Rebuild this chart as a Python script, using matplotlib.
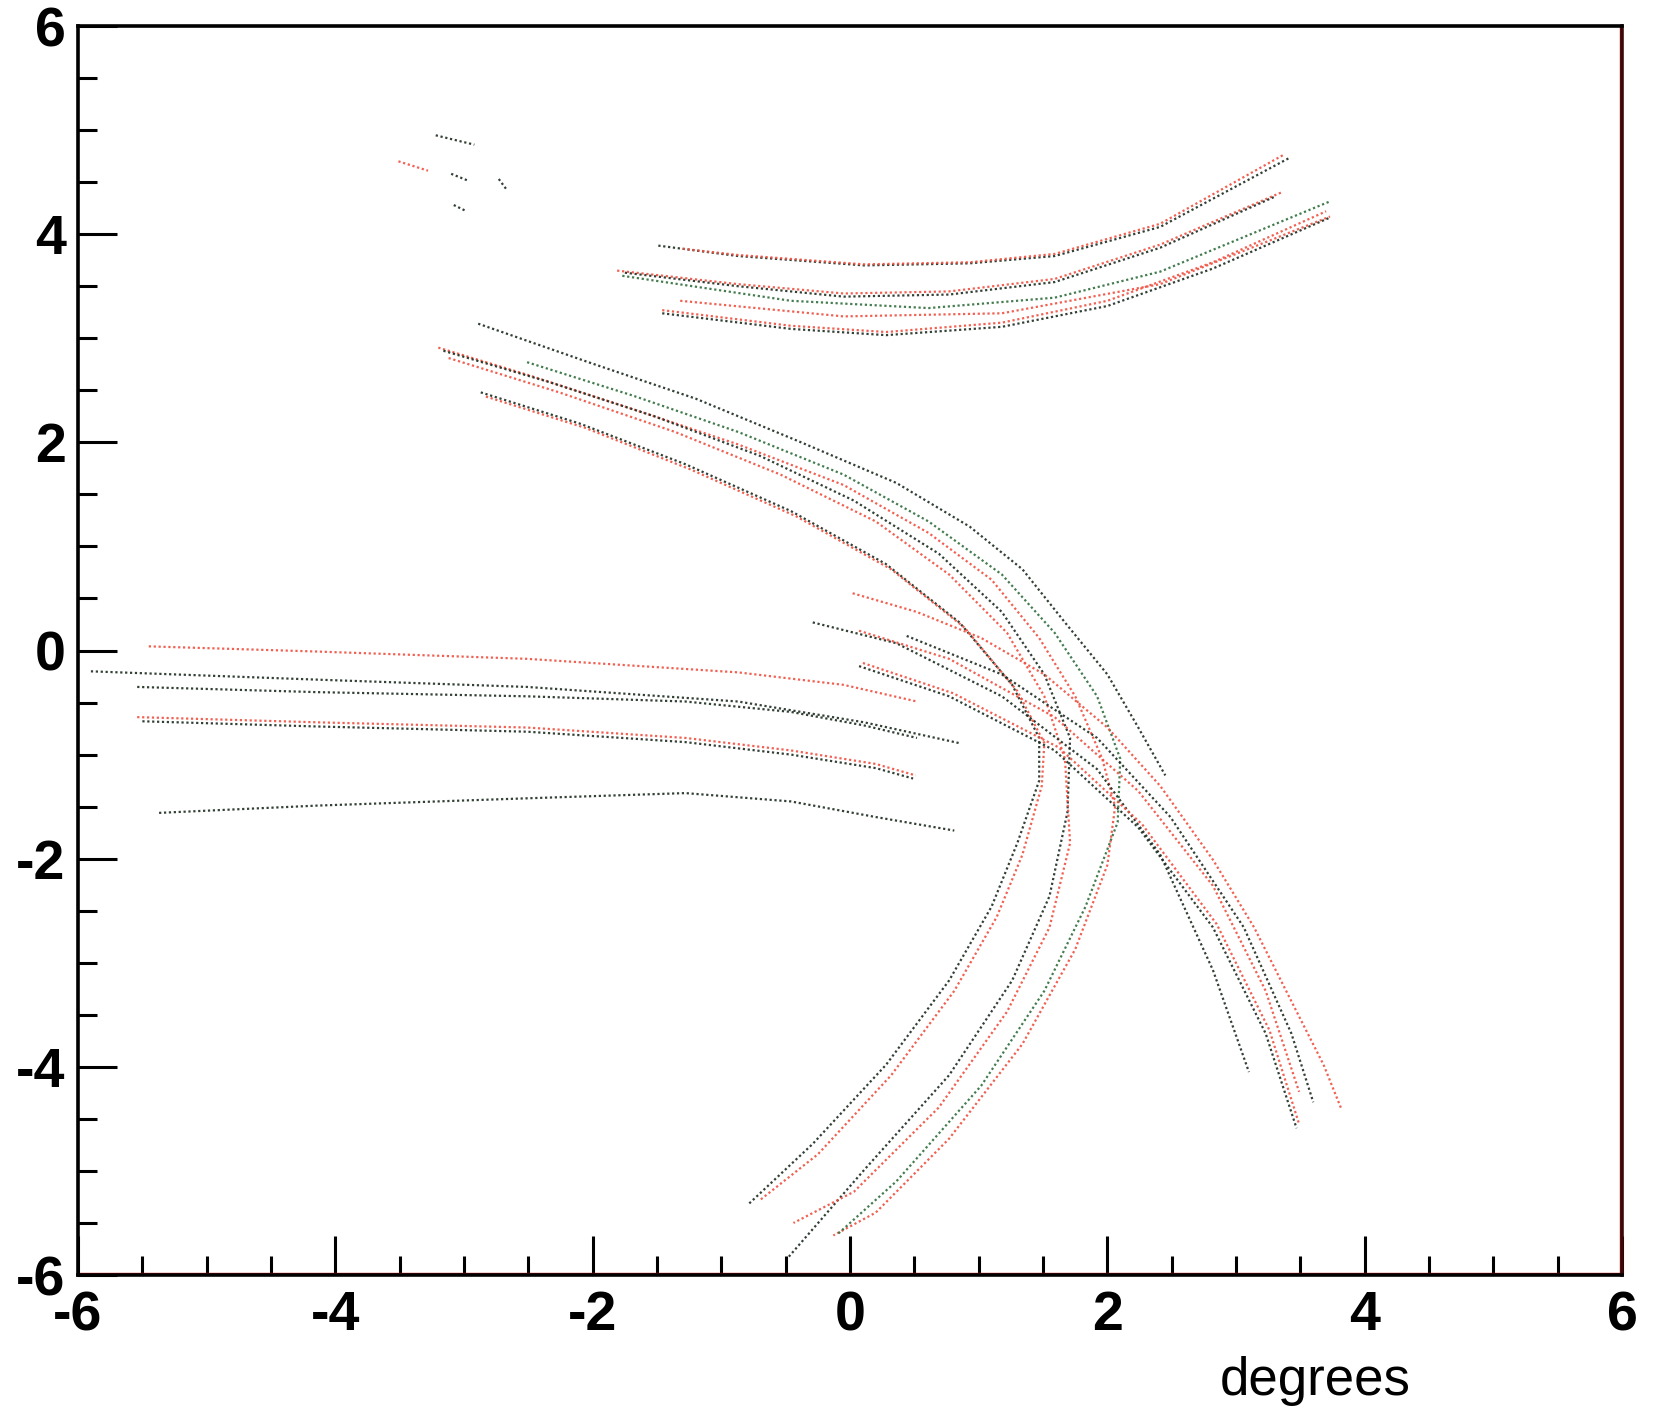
import matplotlib
matplotlib.use("Agg")
import matplotlib.pyplot as plt
from matplotlib.ticker import MultipleLocator, FormatStrFormatter

plt.rcParams['axes.unicode_minus'] = False

# colours of the two track sets
dark = '#1c2b1f'
green = '#2f6e3c'
red = '#ef5040'

# upper family, bending upwards to the right
top_x = [
    [-1.49, -0.87, 0.11, 0.93, 1.59, 2.41, 3.41],
    [-1.30, -0.87, 0.11, 0.93, 1.59, 2.41, 3.38],
    [-1.81, -0.87, -0.05, 0.77, 1.59, 2.41, 3.35],
    [-1.75, -0.87, -0.05, 0.77, 1.59, 2.41, 3.30],
    [-1.77, -0.46, 0.61, 1.59, 2.41, 3.72],
    [-1.32, -0.05, 1.18, 2.41, 3.73],
    [-1.46, -0.46, 0.28, 1.18, 2.00, 2.82, 3.73],
    [-1.46, -0.46, 0.28, 1.18, 2.00, 2.82, 3.70],
]
top_y = [
    [3.89, 3.79, 3.70, 3.72, 3.79, 4.07, 4.73],
    [3.86, 3.80, 3.71, 3.73, 3.81, 4.10, 4.77],
    [3.65, 3.52, 3.43, 3.45, 3.57, 3.90, 4.40],
    [3.63, 3.50, 3.40, 3.42, 3.54, 3.87, 4.36],
    [3.60, 3.36, 3.29, 3.39, 3.64, 4.31],
    [3.36, 3.21, 3.24, 3.52, 4.17],
    [3.24, 3.09, 3.03, 3.11, 3.31, 3.67, 4.16],
    [3.27, 3.12, 3.06, 3.15, 3.36, 3.73, 4.22],
]
top_c = [dark, red, red, dark, green, red, dark, red]

# short fragments at the upper left
frag_x = [[-3.22, -2.92], [-3.51, -3.28], [-3.10, -2.96], [-2.73, -2.67], [-3.08, -2.98]]
frag_y = [[4.95, 4.86], [4.70, 4.61], [4.58, 4.51], [4.53, 4.43], [4.28, 4.22]]
frag_c = [dark, red, dark, dark, dark]

# family coming down from the upper left, turning back to the lower left
ring_x = [
    [-2.89, -2.01, -1.20, -0.38, 0.36, 0.93, 1.34, 1.67, 2.00, 2.24, 2.45],
    [-3.20, -2.51, -1.69, -0.87, -0.05, 0.61, 1.10, 1.47, 1.75, 1.96, 2.06,
     2.00, 1.75, 1.34, 0.77, 0.20, -0.13],
    [-3.16, -2.34, -1.52, -0.70, 0.03, 0.69, 1.18, 1.51, 1.71, 1.69, 1.55,
     1.26, 0.77, 0.11, -0.48],
    [-3.12, -2.26, -1.36, -0.54, 0.20, 0.77, 1.22, 1.51, 1.67, 1.71, 1.55,
     1.22, 0.69, 0.03, -0.44],
    [-2.87, -2.10, -1.28, -0.46, 0.28, 0.85, 1.26, 1.47, 1.47, 1.30, 1.10,
     0.77, 0.28, -0.29, -0.79],
    [-2.83, -2.06, -1.24, -0.42, 0.32, 0.89, 1.30, 1.51, 1.49, 1.34, 1.14,
     0.81, 0.32, -0.25, -0.70],
    [-2.51, -1.69, -0.87, -0.05, 0.61, 1.18, 1.59, 1.92, 2.10, 2.08, 1.83,
     1.51, 1.02, 0.36, -0.09],
]
ring_y = [
    [3.14, 2.76, 2.42, 2.00, 1.61, 1.19, 0.78, 0.27, -0.23, -0.74, -1.20],
    [2.91, 2.65, 2.32, 1.98, 1.59, 1.13, 0.68, 0.12, -0.44, -1.04, -1.50,
     -2.06, -2.87, -3.78, -4.69, -5.40, -5.62],
    [2.88, 2.58, 2.25, 1.87, 1.44, 0.93, 0.37, -0.23, -0.84, -1.55, -2.36,
     -3.17, -4.08, -4.99, -5.83],
    [2.81, 2.48, 2.10, 1.69, 1.24, 0.73, 0.17, -0.44, -1.04, -1.85, -2.66,
     -3.47, -4.39, -5.20, -5.50],
    [2.48, 2.18, 1.79, 1.34, 0.83, 0.27, -0.33, -0.84, -1.25, -1.85, -2.46,
     -3.17, -3.98, -4.74, -5.32],
    [2.44, 2.14, 1.74, 1.29, 0.78, 0.22, -0.39, -0.89, -1.30, -1.96, -2.56,
     -3.27, -4.08, -4.84, -5.28],
    [2.77, 2.45, 2.10, 1.69, 1.24, 0.73, 0.17, -0.44, -1.04, -1.65, -2.46,
     -3.27, -4.18, -5.10, -5.60],
]
ring_c = [dark, red, dark, red, dark, red, green]

# middle family, from x~0 down to the lower right
mid_x = [
    [0.02, 0.52, 1.02, 1.51, 2.00, 2.41, 2.82, 3.14, 3.43, 3.68, 3.82],
    [-0.29, 0.36, 1.18, 1.92, 2.41, 2.82, 3.10],
    [0.07, 0.77, 1.59, 2.24, 2.82, 3.23, 3.49],
    [0.44, 1.18, 1.92, 2.49, 3.06, 3.43, 3.60],
    [0.07, 0.77, 1.59, 2.24, 2.82, 3.23, 3.47],
    [0.10, 0.80, 1.62, 2.27, 2.85, 3.26, 3.49],
]
mid_y = [
    [0.55, 0.37, 0.12, -0.23, -0.74, -1.30, -2.01, -2.66, -3.37, -3.98, -4.41],
    [0.27, 0.07, -0.44, -1.14, -1.96, -3.07, -4.05],
    [0.19, -0.08, -0.64, -1.35, -2.26, -3.27, -4.24],
    [0.14, -0.23, -0.84, -1.60, -2.66, -3.68, -4.34],
    [-0.15, -0.44, -0.96, -1.70, -2.66, -3.68, -4.59],
    [-0.12, -0.41, -0.93, -1.67, -2.63, -3.65, -4.55],
]
mid_c = [red, dark, red, dark, dark, red]

# nearly horizontal family on the left
hor_x = [
    [-5.45, -4.14, -2.51, -0.87, -0.05, 0.52],
    [-5.90, -4.14, -2.51, -0.87, 0.11, 0.85],
    [-5.54, -4.14, -2.51, -1.28, -0.46, 0.11, 0.52],
    [-5.54, -4.14, -2.51, -1.28, -0.46, 0.20, 0.51],
    [-5.50, -4.14, -2.51, -1.28, -0.46, 0.20, 0.49],
    [-5.37, -4.14, -2.51, -1.28, -0.46, 0.20, 0.81],
]
hor_y = [
    [0.04, -0.01, -0.08, -0.21, -0.33, -0.49],
    [-0.20, -0.28, -0.35, -0.49, -0.69, -0.89],
    [-0.35, -0.40, -0.44, -0.49, -0.59, -0.72, -0.84],
    [-0.64, -0.69, -0.74, -0.84, -0.96, -1.09, -1.20],
    [-0.68, -0.73, -0.78, -0.88, -1.00, -1.13, -1.23],
    [-1.56, -1.49, -1.42, -1.37, -1.45, -1.60, -1.73],
]
hor_c = [red, dark, dark, red, dark, dark]

fig = plt.figure(figsize=(16.53, 14.14), dpi=100)
ax = fig.add_axes([0.0472, 0.0983, 0.9341, 0.8833])

dots = (0, (1, 1.2))
for xs, ys, cs in [(top_x, top_y, top_c), (frag_x, frag_y, frag_c),
                   (ring_x, ring_y, ring_c), (mid_x, mid_y, mid_c),
                   (hor_x, hor_y, hor_c)]:
    for x, y, c in zip(xs, ys, cs):
        ax.plot(x, y, color=c, lw=1.6, ls=dots, alpha=0.9)

ax.set_xlim(-6, 6)
ax.set_ylim(-6, 6)

ax.xaxis.set_major_locator(MultipleLocator(2))
ax.xaxis.set_minor_locator(MultipleLocator(0.5))
ax.yaxis.set_major_locator(MultipleLocator(2))
ax.yaxis.set_minor_locator(MultipleLocator(0.5))
ax.xaxis.set_major_formatter(FormatStrFormatter('%d'))
ax.yaxis.set_major_formatter(FormatStrFormatter('%d'))

ax.tick_params(which='both', direction='in', top=False, right=False,
               width=2.2, color='black')
ax.tick_params(which='major', length=28)
ax.tick_params(which='minor', length=14)
ax.tick_params(axis='x', which='major', pad=11)
ax.tick_params(axis='y', which='major', pad=9)

for lab in ax.get_xticklabels() + ax.get_yticklabels():
    lab.set_fontfamily('Liberation Sans')
    lab.set_fontweight('bold')
    lab.set_fontsize(40)

for side in ['left', 'top', 'bottom']:
    ax.spines[side].set_linewidth(2.6)
    ax.spines[side].set_color('black')
ax.spines['right'].set_linewidth(2.6)
ax.spines['right'].set_color('#3a0808')

# thin red frame line along the inner side of bottom and right
ax.plot([0, 0.9985], [0.0018, 0.0018], transform=ax.transAxes, color='#d01818',
        lw=1.0, clip_on=False)
ax.plot([0.9985, 0.9985], [0.0018, 1.0], transform=ax.transAxes, color='#d01818',
        lw=1.0, clip_on=False)

fig.text(0.8536, 0.0233, 'degrees', ha='right', va='center',
         fontfamily='Liberation Sans', fontsize=38)

fig.savefig('out.png', dpi=100)
